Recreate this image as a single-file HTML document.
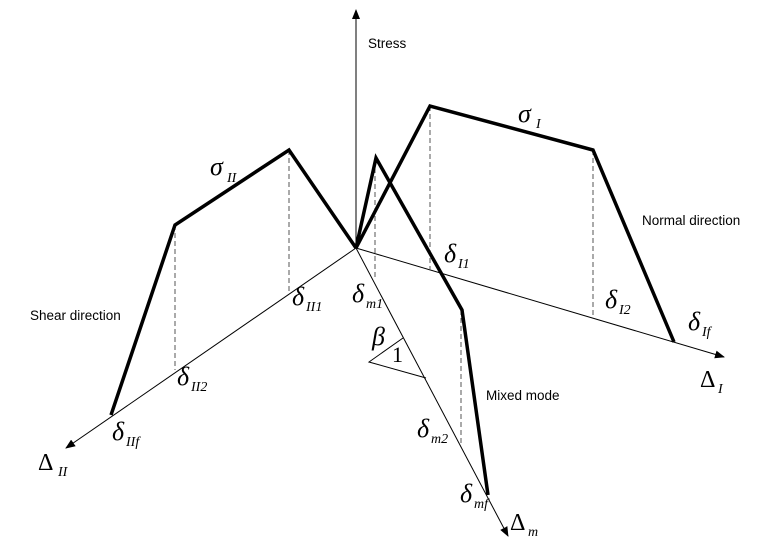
<!DOCTYPE html>
<html><head><meta charset="utf-8"><style>
html,body{margin:0;padding:0;background:#fff}
svg{display:block}
.g{font-family:"Liberation Serif",serif;font-style:italic;font-size:26px}
.s{font-family:"Liberation Serif",serif;font-style:italic;font-size:14px}
.l{font-family:"Liberation Sans",sans-serif;font-size:13.5px}
</style></head><body>
<svg width="775" height="558" viewBox="0 0 775 558">
<defs><marker id="a" markerWidth="10" markerHeight="8" refX="9" refY="4" orient="auto" markerUnits="userSpaceOnUse"><path d="M0,0 L10,4 L0,8 Z" fill="#000"/></marker></defs>
<g stroke="#000" stroke-width="1" fill="none">
<line x1="356" y1="248" x2="356" y2="10" marker-end="url(#a)"/>
<line x1="356" y1="248" x2="724" y2="357" marker-end="url(#a)"/>
<line x1="356" y1="248" x2="66" y2="448" marker-end="url(#a)"/>
<line x1="356" y1="248" x2="508" y2="536" marker-end="url(#a)"/>
<polyline points="403,338 369,362 426,378"/>
</g>
<g stroke="#555" stroke-width="1" stroke-dasharray="5,3">
<line x1="430" y1="106" x2="430" y2="270"/>
<line x1="593" y1="150" x2="593" y2="318"/>
<line x1="289" y1="150" x2="289" y2="291"/>
<line x1="175" y1="225" x2="175" y2="370"/>
<line x1="375" y1="160" x2="375" y2="280"/>
<line x1="461" y1="310" x2="461" y2="443"/>
</g>
<g stroke="#000" stroke-width="3.5" fill="none" stroke-linejoin="miter">
<polyline points="356,248 430,106 593,150 674,342"/>
<polyline points="356,248 289,150 175,225 111,415"/>
<polyline points="356,248 376,158 462,310 488,495"/>
</g>
<text x="368" y="48" class="l">Stress</text>
<text x="642" y="225" class="l">Normal direction</text>
<text x="30" y="320" class="l">Shear direction</text>
<text x="486" y="400" class="l">Mixed mode</text>
<text x="518" y="122" class="g">σ</text><text x="536" y="128" class="s">I</text>
<text x="210" y="175" class="g">σ</text><text x="227" y="182" class="s">II</text>
<text x="444" y="262" class="g">δ</text><text x="458" y="268" class="s">I1</text>
<text x="605" y="308" class="g">δ</text><text x="619" y="314" class="s">I2</text>
<text x="688" y="330" class="g">δ</text><text x="702" y="336" class="s">If</text>
<text x="292" y="305" class="g">δ</text><text x="306" y="311" class="s">II1</text>
<text x="177" y="385" class="g">δ</text><text x="191" y="391" class="s">II2</text>
<text x="112" y="440" class="g">δ</text><text x="126" y="446" class="s">IIf</text>
<text x="352" y="302" class="g">δ</text><text x="366" y="308" class="s">m1</text>
<text x="417" y="437" class="g">δ</text><text x="431" y="443" class="s">m2</text>
<text x="460" y="502" class="g">δ</text><text x="474" y="508" class="s">mf</text>
<text x="372" y="345" class="g">β</text>
<text x="392" y="362" style="font-family:'Liberation Serif',serif;font-size:22px">1</text>
<text x="38" y="470" style="font-family:'Liberation Serif',serif;font-size:24px">Δ</text><text x="58" y="476" class="s">II</text>
<text x="700" y="387" style="font-family:'Liberation Serif',serif;font-size:24px">Δ</text><text x="718" y="393" class="s">I</text>
<text x="510" y="530" style="font-family:'Liberation Serif',serif;font-size:24px">Δ</text><text x="528" y="536" class="s">m</text>
</svg>
</body></html>
